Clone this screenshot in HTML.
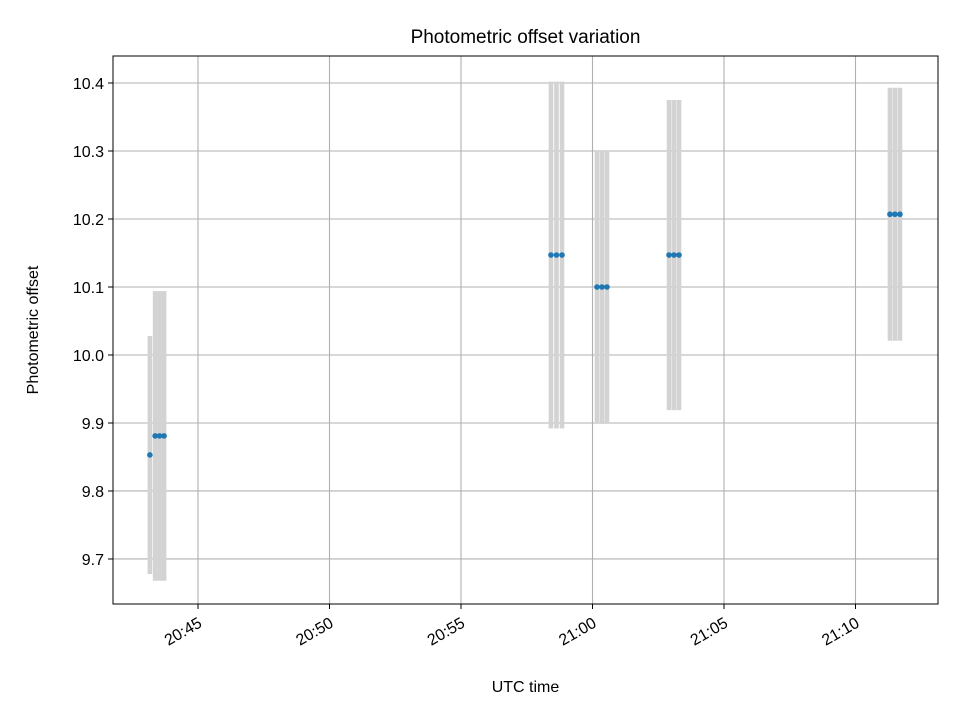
<!DOCTYPE html>
<html><head><meta charset="utf-8"><style>body{margin:0;background:#fff}svg{display:block;font-family:"Liberation Sans","DejaVu Sans",sans-serif}</style></head>
<body>
<svg id="chart" width="960" height="720" viewBox="0 0 960 720"></svg>
<script>
const times=[43.17,43.37,43.54,43.71,58.42,58.63,58.84,60.17,60.36,60.55,62.91,63.10,63.29,71.31,71.50,71.69];
const offsets=[9.853,9.881,9.881,9.881,10.147,10.147,10.147,10.100,10.100,10.100,10.147,10.147,10.147,10.207,10.207,10.207];
const errors=[0.175,0.213,0.213,0.213,0.255,0.255,0.255,0.200,0.200,0.200,0.228,0.228,0.228,0.186,0.186,0.186];
const xTicks=[45,50,55,60,65,70];
const xTickLabels=["20:45","20:50","20:55","21:00","21:05","21:10"];
const yTicks=[9.7,9.8,9.9,10.0,10.1,10.2,10.3,10.4];
const yTickLabels=["9.7","9.8","9.9","10.0","10.1","10.2","10.3","10.4"];
const L=113,R=938,T=56,B=604,x0=41.768,x1=73.137,y0=9.6338,y1=10.4397;
const X=v=>L+(v-x0)/(x1-x0)*(R-L), Y=v=>B-(v-y0)/(y1-y0)*(B-T);
const svg=document.getElementById('chart');const NS='http://www.w3.org/2000/svg';
function mk(t,a,p){const e=document.createElementNS(NS,t);for(const k in a)e.setAttribute(k,a[k]);(p||svg).appendChild(e);return e;}
const grid=mk('g',{});
xTicks.forEach((t,i)=>{const x=X(t);
 const g=mk('line',{x1:x,x2:x,y1:T,y2:B,stroke:'#b0b0b0','stroke-width':1.1},grid);
 const k=mk('line',{x1:x,x2:x,y1:B,y2:B+5,stroke:'#000','stroke-width':1});
 const ax=x+5,ay=B+22;
 const tx=mk('text',{x:ax,y:ay,'font-size':16,'text-anchor':'end',transform:`rotate(-30 ${ax} ${ay})`});tx.textContent=xTickLabels[i];});
yTicks.forEach((t,i)=>{const y=Y(t);
 const g=mk('line',{x1:L,x2:R,y1:y,y2:y,stroke:'#b0b0b0','stroke-width':1.1},grid);
 const k=mk('line',{x1:L-5,x2:L,y1:y,y2:y,stroke:'#000','stroke-width':1});
 const tx=mk('text',{x:L-9,y:y+6,'font-size':16,'text-anchor':'end'});tx.textContent=yTickLabels[i];});
times.forEach((t,i)=>{const e=mk('line',{x1:X(t),x2:X(t),y1:Y(offsets[i]-errors[i]),y2:Y(offsets[i]+errors[i]),stroke:'#d3d3d3','stroke-width':4.6});});
times.forEach((t,i)=>{const c=mk('circle',{cx:X(t),cy:Y(offsets[i]),r:2.8,fill:'#1f77b4'});});
const fr=mk('rect',{x:L,y:T,width:R-L,height:B-T,fill:'none',stroke:'#000','stroke-width':1});
const ti=mk('text',{x:(L+R)/2,y:43,'font-size':19,'text-anchor':'middle'});ti.textContent='Photometric offset variation';
const xl=mk('text',{x:(L+R)/2,y:692,'font-size':16,'text-anchor':'middle'});xl.textContent='UTC time';
const yl=mk('text',{x:38,y:(T+B)/2,'font-size':16,'text-anchor':'middle',transform:`rotate(-90 38 ${(T+B)/2})`});yl.textContent='Photometric offset';
</script>
</body></html>
